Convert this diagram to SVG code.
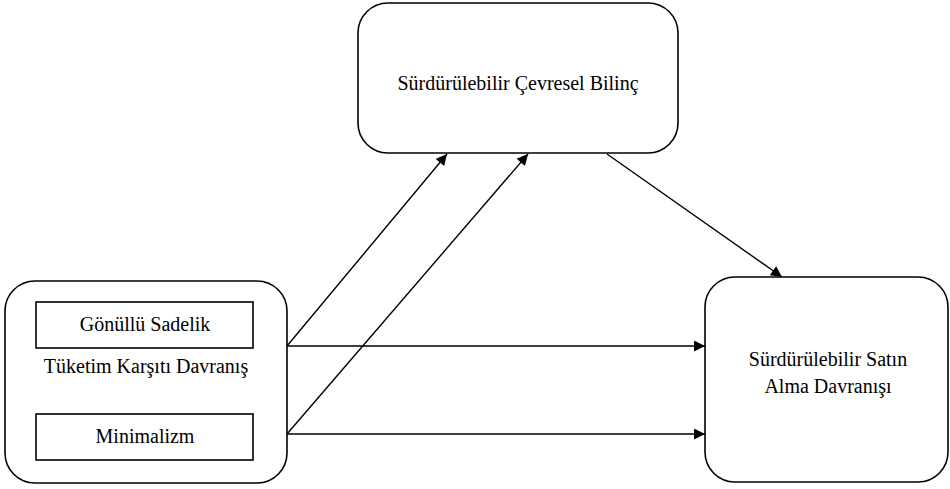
<svg xmlns="http://www.w3.org/2000/svg" width="950" height="489" viewBox="0 0 950 489">
<style>
.box{fill:#fff;stroke:#000;stroke-width:1.6}
.t{font-family:"Liberation Serif","Times New Roman",serif;font-size:20px;fill:#000;text-anchor:middle}
.c{stroke:#000;stroke-width:1.4;fill:none;marker-end:url(#ah)}
</style>
<defs>
<marker id="ah" viewBox="0 0 10 10" refX="10" refY="5" markerWidth="12" markerHeight="11" markerUnits="userSpaceOnUse" orient="auto">
<path d="M0,0 L10,5 L0,10 z" fill="#000"/>
</marker>
</defs>
<rect width="950" height="489" fill="#fff"/>
<g id="connectors">
<line class="c" x1="287" y1="346" x2="705" y2="346"/>
<line class="c" x1="287" y1="434" x2="705" y2="434"/>
<line class="c" x1="287" y1="346" x2="447" y2="154"/>
<line class="c" x1="287" y1="434" x2="528" y2="154"/>
<line class="c" x1="607" y1="154" x2="782" y2="277"/>
</g>
<g id="node-tuketim">
<rect class="box" x="5" y="281" width="282" height="202" rx="30"/>
<text class="t" x="146" y="373">Tüketim Karşıtı Davranış</text>
</g>
<g id="node-gonullu">
<rect class="box" x="36" y="302" width="217" height="46"/>
<text class="t" x="145" y="331">Gönüllü Sadelik</text>
</g>
<g id="node-minimalizm">
<rect class="box" x="36" y="414" width="217" height="46"/>
<text class="t" x="145" y="443">Minimalizm</text>
</g>
<g id="node-bilinc">
<rect class="box" x="358" y="3" width="320" height="150" rx="30"/>
<text class="t" x="518" y="90">Sürdürülebilir Çevresel Bilinç</text>
</g>
<g id="node-satin">
<rect class="box" x="705" y="277" width="243" height="205" rx="30"/>
<text class="t" x="828" y="366">Sürdürülebilir Satın</text>
<text class="t" x="828" y="393">Alma Davranışı</text>
</g>
</svg>
